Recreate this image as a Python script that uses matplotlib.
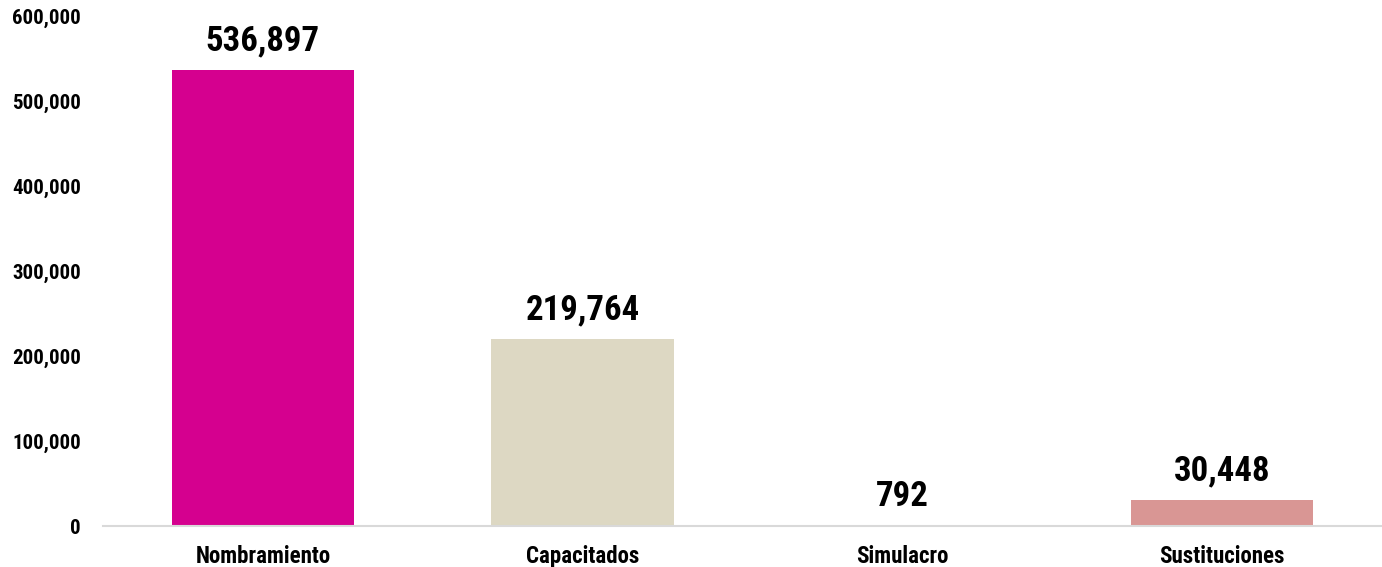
import matplotlib.pyplot as plt
from matplotlib import font_manager
from matplotlib.ticker import FuncFormatter

categorias = ['Nombramiento', 'Capacitados', 'Simulacro', 'Sustituciones']
valores = [536897, 219764, 792, 30448]
colores = ['#D5008F', '#DDD8C3', '#D8D8D8', '#D99694']

# fuente angosta tipo Arial Narrow si existe
names = {f.name for f in font_manager.fontManager.ttflist}
fuente = 'Liberation Sans'
for f in ['Arial Narrow', 'Liberation Sans Narrow', 'Roboto Condensed', 'Archivo Narrow', 'PT Sans Narrow']:
    if f in names:
        fuente = f
        break
plt.rcParams['font.family'] = [fuente, 'DejaVu Sans']
plt.rcParams['font.weight'] = 'bold'

fig = plt.figure(figsize=(13.82, 5.67), dpi=100)
ax = fig.add_axes([103/1382, 41/567, 1 - 103/1382, 510/567])

x = range(len(categorias))
ax.bar(x, valores, width=0.57, color=colores)

for i, v in enumerate(valores):
    ax.annotate('{:,}'.format(v), (i, v), xytext=(0, 9), textcoords='offset points',
                ha='center', va='bottom', fontsize=25, fontweight='bold', color='black')

ax.set_xlim(-0.5, 3.5)
ax.set_ylim(0, 600000)
ax.set_yticks(range(0, 600001, 100000))
ax.yaxis.set_major_formatter(FuncFormatter(lambda v, p: '{:,.0f}'.format(v)))
ax.set_xticks(list(x))
ax.set_xticklabels(categorias)

for s in ['top', 'right', 'left']:
    ax.spines[s].set_visible(False)
ax.spines['bottom'].set_color('#D9D9D9')
ax.spines['bottom'].set_linewidth(1.5)
ax.tick_params(axis='y', length=0, pad=16, labelsize=15)
ax.tick_params(axis='x', length=0, pad=14, labelsize=16.5)
for lab in ax.get_xticklabels() + ax.get_yticklabels():
    lab.set_fontweight('bold')

fig.savefig('out.png', dpi=100)
